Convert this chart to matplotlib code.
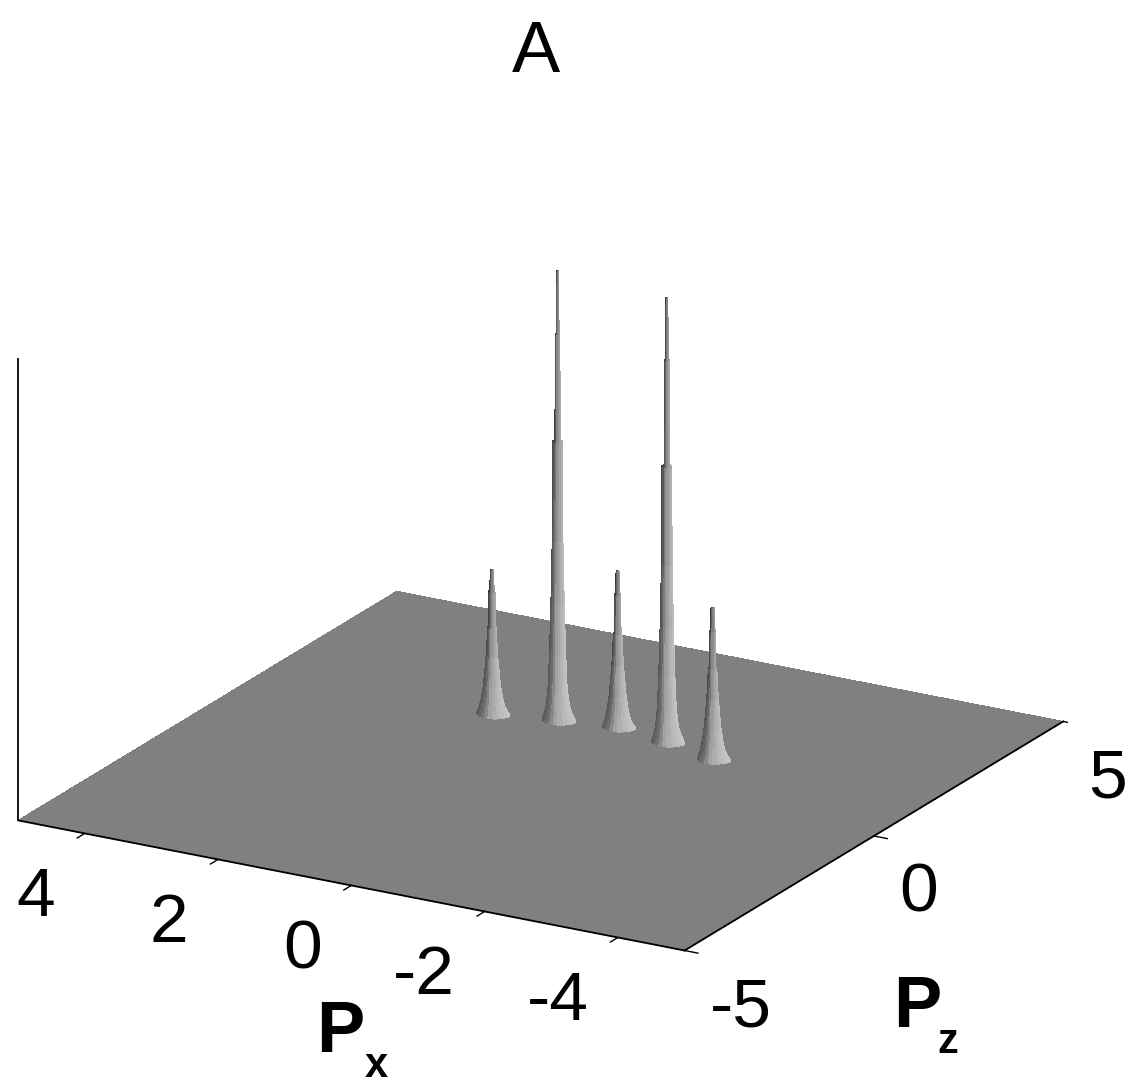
import numpy as np
import matplotlib
matplotlib.use('Agg')
import matplotlib.pyplot as plt
from mpl_toolkits.mplot3d import proj3d

plt.rcParams['font.family'] = ['Liberation Sans', 'DejaVu Sans']

# Peak positions and heights
peak_px = [1.64, 0.78, -0.03, -0.87, -1.71]
peak_pz = [1.60, 1.82, 1.98, 1.80, 1.53]
peak_h = [0.31, 0.97, 0.335, 0.96, 0.325]

# Radial profile of the peaks (fraction of the height, radius in P units)
tall_level = [0.0, 0.015, 0.03, 0.07, 0.15, 0.26, 0.40, 0.62, 0.62, 0.86, 0.86, 1.0]
tall_radius = [0.20, 0.17, 0.15, 0.125, 0.105, 0.087, 0.07, 0.065, 0.035, 0.03, 0.02, 0.014]
short_level = [0.0, 0.04, 0.10, 0.20, 0.40, 0.60, 0.60, 0.85, 0.85, 1.0]
short_radius = [0.20, 0.165, 0.14, 0.11, 0.075, 0.055, 0.045, 0.04, 0.03, 0.02]

# Shape of the foot of a peak around its axis
foot_angle = [0, 60, 120, 180, 240, 300, 360]
foot_scale = [1.0, 0.7, 0.8, 1.35, 1.15, 1.0, 1.0]

# Grey against how far a facet turns to the screen right (-1 left, 1 right)
turn = [-1, -0.5, 0, 0.5, 1]
turn_grey = [0.34, 0.44, 0.64, 0.72, 0.78]

px_ticks = [4, 2, 0, -2, -4]
pz_ticks = [-5, 0, 5]
p_limits = [-5, 5]
z_top = 1.0

W, H = 1130, 1084
fig = plt.figure(figsize=(W / 100, H / 100), dpi=100, facecolor='white')
ax = fig.add_axes([-39 / W, -12.7 / H, 1, 1], projection='3d', proj_type='ortho', computed_zorder=False)
ax.view_init(elev=20.1, azim=-60.4)
ax.set_box_aspect((767, 767, 492), zoom=1.066)
ax.set_xlim(5, -5)
ax.set_ylim(-5, 5)
ax.set_zlim(0, z_top)
ax.set_axis_off()

# tick labels go through the 3d projection, then sit as plain 2d text
def label_3d(x, y, s, **kw):
    x2, y2, _ = proj3d.proj_transform(x, y, 0, ax.get_proj())
    ax.text2D(x2, y2, s, transform=ax.transData, va='center', fontsize=50, zorder=5, **kw)

# floor
fx, fy = np.meshgrid(p_limits, p_limits)
ax.plot_surface(fx, fy, np.zeros_like(fx, dtype=float), color='#808080', shade=False,
                linewidth=0, antialiased=False, zorder=1)

# box edges
ax.plot([5, -5], [-5, -5], [0, 0], color='black', lw=1.3, zorder=2)
ax.plot([-5, -5], [-5, 5], [0, 0], color='black', lw=1.3, zorder=2)
ax.plot([5, 5], [-5, -5], [0, z_top], color='black', lw=1.3, zorder=2)

# ticks
for t in px_ticks:
    ax.plot([t, t], [-5, -5.2], [0, 0], color='black', lw=1, zorder=2)
    label_3d(t - 0.88, -7.33, str(t), ha='right')
for t in pz_ticks:
    ax.plot([-5, -5.2], [t, t], [0, 0], color='black', lw=1, zorder=2)
    label_3d(-6.37, t - 1.74, str(t), ha='left')

# peaks, back to front. Grey depends on which way a facet faces on screen and on height
theta = np.deg2rad(np.arange(0, 361, 15))
for i in range(len(peak_h)):
    if peak_h[i] > 0.5:
        lev, rad = np.array(tall_level), np.array(tall_radius)
    else:
        lev, rad = np.array(short_level), np.array(short_radius)
    foot = np.interp(np.rad2deg(theta), foot_angle, foot_scale)
    weight = np.clip(1 - lev / 0.06, 0, 1)
    r = np.outer(foot - 1, weight * rad) + rad
    xs = peak_px[i] + r * np.cos(theta)[:, None]
    ys = peak_pz[i] + r * np.sin(theta)[:, None]
    zs = np.tile(lev * peak_h[i], (len(theta), 1))

    right = -0.87 * np.cos(theta) + 0.5 * np.sin(theta)
    grey = np.interp(right, turn, turn_grey)[:, None] - 0.18 * lev[None, :]
    colors = np.dstack([grey, grey, grey, np.ones_like(grey)])
    ax.plot_surface(xs, ys, zs, facecolors=colors, shade=False, rstride=1, cstride=1,
                    linewidth=0, antialiased=False, zorder=3 + i * 0.1)

# title and axis labels, pixel positions
def fig_text(x, y, s, **kw):
    fig.text(x / W, 1 - y / H, s, ha='center', va='center', **kw)

fig_text(536, 53, 'A', fontsize=52)
fig_text(340, 1033, 'P', fontsize=52, fontweight='bold')
fig_text(376, 1066, 'x', fontsize=30, fontweight='bold')
fig_text(917, 1008, 'P', fontsize=52, fontweight='bold')
fig_text(948, 1042, 'z', fontsize=30, fontweight='bold')

fig.savefig('out.png', dpi=100, facecolor='white')
